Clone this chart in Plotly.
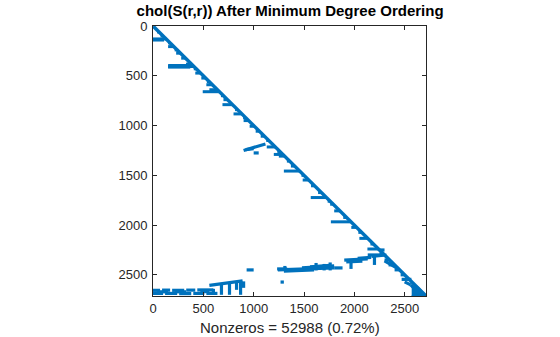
import plotly.graph_objects as go

N = 2712  # matrix order (axis limit)
nnz_label = "Nonzeros = 52988 (0.72%)"
title_text = "chol(S(r,r)) After Minimum Degree Ordering"
tick_vals = [0, 500, 1000, 1500, 2000, 2500]
tick_text = ["0", "500", "1000", "1500", "2000", "2500"]

# short horizontal "teeth" that run from a start column to the diagonal
tooth_row = [60, 100, 130, 170, 207, 240, 273, 323, 385, 407, 430, 473, 523, 560, 590, 640, 660,
             700, 740, 790, 840, 883, 920, 950, 1007, 1057, 1107, 1150, 1215, 1260, 1290, 1307,
             1357, 1407, 1457, 1500, 1547, 1605, 1673, 1723, 1760, 1790, 1857, 1923, 1967,
             2023, 2073, 2133, 2190, 2240, 2290, 2350, 2400, 2450, 2500]
tooth_start = [40, 75, 0, 150, 150, 215, 230, 280, 330, 150, 405, 420, 480, 535, 530, 560, 494,
               675, 700, 690, 815, 800, 895, 900, 960, 1020, 1070, 1125, 1130, 1235, 1200, 1250,
               1330, 1370, 1300, 1475, 1487, 1570, 1640, 1567, 1735, 1760, 1800, 1890, 1767,
               1970, 2040, 2050, 2160, 2130, 2250, 2300, 2340, 2400, 2460]

# free strokes (col0, row0) -> (col1, row1)
s_x0 = [0, 150, 900, 920, 1000,
        # bottom-left band
        0, 90, 190, 330, 440, 0, 120, 260, 400, 530, 40, 220, 470,
        560, 600, 680, 760, 870, 830, 900,
        # isolated pieces
        930, 1233, 1310, 1267,
        # rising middle band
        1240, 1300, 1480, 1560, 1620, 1700, 1760, 1800, 1900, 1920, 1967, 2033, 2133, 2200,
        2170, 2250, 2300, 2470, 2500, 2560, 150, 330]
s_y0 = [140, 412, 1250, 1242, 1275,
        2655, 2653, 2655, 2653, 2651, 2686, 2686, 2688, 2686, 2686, 2670, 2670, 2668,
        2605, 2640, 2585, 2580, 2560, 2575, 2565,
        2450, 2440, 2410, 2572,
        2450, 2462, 2430, 2420, 2380, 2390, 2375, 2430, 2352, 2370, 2350, 2335, 2300, 2290,
        2315, 2250, 2360, 2545, 2570, 2600, 398, 385]
s_x1 = [110, 370, 1117, 1000, 1050,
        70, 170, 310, 420, 600, 100, 240, 380, 510, 640, 150, 330, 560,
        890, 600, 680, 760, 870, 830, 900,
        1000, 1333, 1310, 1300,
        1800, 1600, 1800, 1760, 1620, 1700, 1760, 1883, 2133, 2080, 1967, 2167, 2267, 2200,
        2320, 2300, 2420, 2567, 2560, 2600, 360, 385]
s_y1 = [140, 412, 1185, 1232, 1275,
        2655, 2653, 2655, 2653, 2651, 2686, 2686, 2688, 2686, 2686, 2670, 2670, 2668,
        2560, 2700, 2700, 2700, 2700, 2650, 2630,
        2450, 2440, 2440, 2572,
        2430, 2450, 2410, 2405, 2455, 2455, 2455, 2430, 2340, 2362, 2440, 2325, 2300, 2400,
        2300, 2250, 2430, 2545, 2600, 2640, 398, 380]

# dense bottom-right corner region
corner_x = [2570, 2625, 2712, 2570]
corner_y = [2620, 2620, 2712, 2712]

blue = "#0072BD"
font_family = "Liberation Sans, Arial"
fig = go.Figure()

# diagonal
fig.add_trace(go.Scatter(x=[1, N - 2], y=[1, N - 2], mode="lines",
                         line=dict(color=blue, width=3.5), hoverinfo="skip", showlegend=False))

tx, ty = [], []
for r, c0 in zip(tooth_row, tooth_start):
    tx += [c0, r, None]
    ty += [r, r, None]
fig.add_trace(go.Scatter(x=tx, y=ty, mode="lines", line=dict(color=blue, width=3),
                         hoverinfo="skip", showlegend=False))

sx, sy = [], []
for a, b, c, d in zip(s_x0, s_y0, s_x1, s_y1):
    sx += [a, c, None]
    sy += [b, d, None]
fig.add_trace(go.Scatter(x=sx, y=sy, mode="lines", line=dict(color=blue, width=3.2),
                         hoverinfo="skip", showlegend=False))

fig.add_trace(go.Scatter(x=corner_x, y=corner_y, mode="lines", fill="toself",
                         fillcolor=blue, line=dict(color=blue, width=2),
                         hoverinfo="skip", showlegend=False))

axis_common = dict(showgrid=False, zeroline=False, showline=True, linecolor="#262626",
                   linewidth=1, mirror="ticks", ticks="inside", ticklen=4,
                   tickcolor="#262626", tickvals=tick_vals, ticktext=tick_text,
                   tickfont=dict(family=font_family, size=13, color="#262626"))
fig.update_xaxes(range=[0, N], **axis_common)
fig.update_yaxes(range=[N, 0], ticklabelstandoff=2, **axis_common)

fig.update_layout(
    width=560, height=337,
    margin=dict(l=153, r=134, t=26, b=41),
    plot_bgcolor="white", paper_bgcolor="white",
    title=dict(text="<b>" + title_text + "</b>", x=0.518, xanchor="center",
               y=1 - 11 / 337, yanchor="middle", yref="container",
               font=dict(family=font_family, size=15, color="#000000")),
    annotations=[dict(text=nnz_label, xref="paper", yref="paper", x=0.5, y=-0.118,
                      xanchor="center", yanchor="middle", showarrow=False,
                      font=dict(family=font_family, size=15, color="#262626"))],
)

fig.write_html("out.html")
